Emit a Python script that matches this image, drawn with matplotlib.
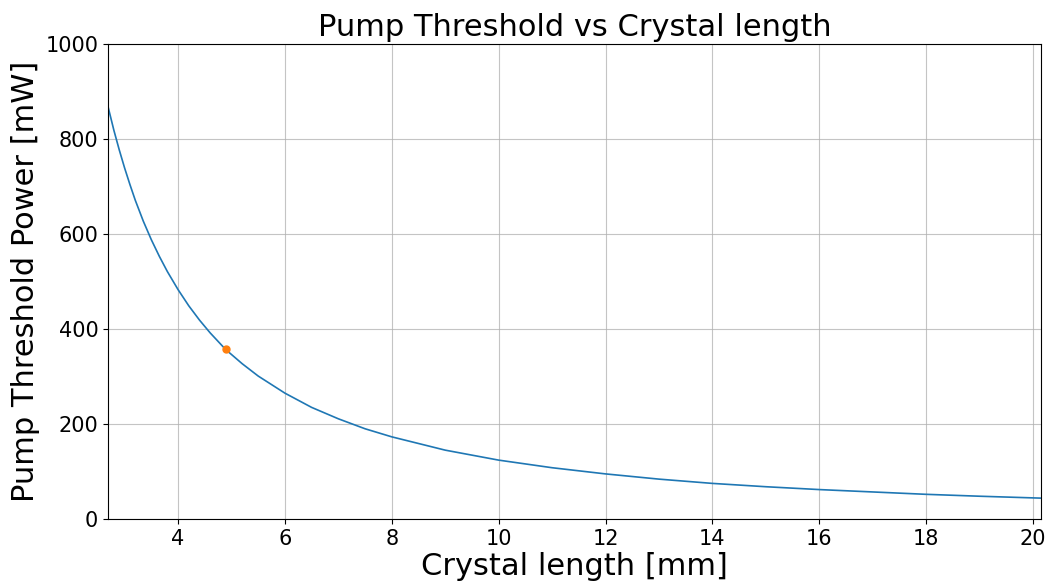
import numpy as np
from matplotlib import pyplot as plt

# values
crystal_length = [2.69, 2.8, 2.9, 3.0, 3.1, 3.2, 3.35, 3.5, 3.65, 3.8, 4.0,
                  4.2, 4.4, 4.6, 4.89, 5.2, 5.5, 6.0, 6.5, 7.0, 7.5, 8.0,
                  9.0, 10.0, 11.0, 12.0, 13.0, 14.0, 15.0, 16.0, 17.0, 18.0,
                  19.0, 20.0, 20.15]
threshold_power = [868, 818, 777, 739, 704, 671, 627, 588, 553, 521, 483,
                   449, 419, 392, 357, 327, 301, 265, 235, 211, 190, 173,
                   145, 124, 108, 95, 84, 75, 68, 62, 57, 52,
                   48, 44.5, 44]

chosen_length = [4.89]
chosen_power = [357]

fig = plt.figure(figsize=(10.51, 5.82), dpi=100)
ax = fig.add_axes([0.1028, 0.1082, 0.8877, 0.8162])

ax.plot(crystal_length, threshold_power, color="C0", linewidth=1.2)
ax.plot(chosen_length, chosen_power, "o", color="C1", markersize=5)

ax.set_xlim(crystal_length[0], crystal_length[-1])
ax.set_ylim(0, 1000)
ax.set_xticks(np.arange(4, 21, 2))
ax.grid(True, color="#b0b0b0", alpha=0.75)

ax.set_title("Pump Threshold vs Crystal length", fontsize=22)
ax.set_xlabel("Crystal length [mm]", fontsize=22, labelpad=2)
ax.set_ylabel("Pump Threshold Power [mW]", fontsize=22, labelpad=4)
ax.tick_params(labelsize=15)

fig.savefig("out.png", dpi=100)
